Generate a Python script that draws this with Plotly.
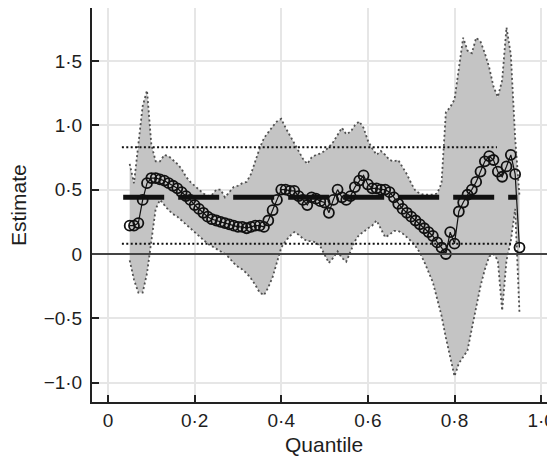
import plotly.graph_objects as go

# ---- data ----
quantiles = [round(0.05 + 0.01 * i, 2) for i in range(91)]

estimate = [
    0.22, 0.22, 0.24, 0.42, 0.55, 0.59, 0.59, 0.58, 0.57, 0.55,   # 0.05-0.14
    0.53, 0.51, 0.48, 0.45, 0.42, 0.38, 0.35, 0.32, 0.29, 0.27,   # 0.15-0.24
    0.26, 0.25, 0.24, 0.23, 0.22, 0.21, 0.21, 0.20, 0.21, 0.22,   # 0.25-0.34
    0.22, 0.21, 0.26, 0.34, 0.42, 0.50, 0.50, 0.49, 0.49, 0.45,   # 0.35-0.44
    0.42, 0.38, 0.44, 0.43, 0.41, 0.40, 0.32, 0.42, 0.50, 0.44,   # 0.45-0.54
    0.42, 0.45, 0.52, 0.57, 0.61, 0.54, 0.51, 0.51, 0.50, 0.50,   # 0.55-0.64
    0.48, 0.44, 0.39, 0.35, 0.32, 0.29, 0.26, 0.23, 0.20, 0.17,   # 0.65-0.74
    0.14, 0.09, 0.05, 0.00, 0.17, 0.08, 0.33, 0.40, 0.46, 0.50,   # 0.75-0.84
    0.56, 0.64, 0.72, 0.76, 0.73, 0.64, 0.60, 0.68, 0.77, 0.62,   # 0.85-0.94
    0.05,                                                           # 0.95
]

upper = [
    0.70, 0.55, 0.85, 1.15, 1.27, 0.85, 0.72, 0.72, 0.77, 0.76,
    0.73, 0.70, 0.66, 0.60, 0.56, 0.53, 0.50, 0.47, 0.45, 0.46,
    0.50, 0.50, 0.44, 0.48, 0.52, 0.53, 0.55, 0.56, 0.62, 0.72,
    0.82, 0.90, 0.95, 0.99, 1.03, 1.05, 0.98, 0.92, 0.87, 0.80,
    0.74, 0.70, 0.75, 0.77, 0.78, 0.80, 0.83, 0.87, 0.92, 0.98,
    0.93, 0.95, 1.00, 1.03, 0.98, 0.88, 0.82, 0.77, 0.80, 0.77,
    0.73, 0.72, 0.73, 0.68, 0.62, 0.55, 0.49, 0.47, 0.46, 0.46,
    0.46, 0.47, 0.55, 1.10, 1.14, 1.20, 1.45, 1.68, 1.58, 1.56,
    1.68, 1.65, 1.56, 1.45, 1.30, 1.22, 1.35, 1.76, 1.55, 0.90,
    0.45,
]

lower = [
    -0.05, -0.20, -0.30, -0.30, -0.15, 0.10, 0.35, 0.42, 0.38, 0.34,
    0.31, 0.29, 0.26, 0.23, 0.20, 0.17, 0.14, 0.11, 0.08, 0.06,
    0.04, 0.02, 0.00, -0.03, -0.07, -0.10, -0.12, -0.15, -0.19, -0.24,
    -0.30, -0.32, -0.26, -0.18, -0.06, 0.05, 0.10, 0.14, 0.17, 0.15,
    0.12, 0.10, 0.10, 0.09, 0.06, 0.00, -0.07, -0.03, 0.02, -0.03,
    -0.06, 0.02, 0.10, 0.15, 0.17, 0.20, 0.22, 0.26, 0.20, 0.13,
    0.15, 0.18, 0.18, 0.16, 0.13, 0.10, 0.06, 0.01, -0.06, -0.14,
    -0.22, -0.35, -0.48, -0.65, -0.80, -0.95, -0.85, -0.80, -0.75, -0.58,
    -0.40, -0.25, -0.12, -0.02, 0.00, -0.05, -0.44, -0.05, 0.10, 0.35,
    -0.46,
]

ols_estimate = 0.44
ols_est_span = [0.035, 0.945]
ols_ci_upper = 0.83
ols_ci_upper_span = [0.032, 0.898]
ols_ci_lower = 0.08
ols_ci_lower_span = [0.032, 0.936]

x_tickvals = [0, 0.2, 0.4, 0.6, 0.8, 1.0]
x_ticktext = ["0", "0·2", "0·4", "0·6", "0·8", "1·0"]
y_tickvals = [-1.0, -0.5, 0, 0.5, 1.0, 1.5]
y_ticktext = ["−1·0", "−0·5", "0", "0·5", "1·0", "1·5"]

# ---- figure ----
FONT = "Liberation Sans, Arial, sans-serif"
TXT = "#1e1e1e"
band_line = dict(color="#505050", width=1.8, dash="2px,2.6px")

fig = go.Figure()
fig.add_trace(go.Scatter(x=quantiles, y=lower, mode="lines", line=band_line,
                         hoverinfo="skip", showlegend=False))
fig.add_trace(go.Scatter(x=quantiles, y=upper, mode="lines", line=band_line,
                         fill="tonexty", fillcolor="#c4c4c4",
                         hoverinfo="skip", showlegend=False))
fig.add_trace(go.Scatter(x=ols_est_span, y=[ols_estimate] * 2, mode="lines",
                         line=dict(color="#111111", width=5, dash="41px,14px"),
                         showlegend=False))
fig.add_trace(go.Scatter(x=ols_ci_upper_span, y=[ols_ci_upper] * 2, mode="lines",
                         line=dict(color="#111111", width=2, dash="2px,2.4px"),
                         showlegend=False))
fig.add_trace(go.Scatter(x=ols_ci_lower_span, y=[ols_ci_lower] * 2, mode="lines",
                         line=dict(color="#111111", width=2, dash="2px,2.4px"),
                         showlegend=False))
fig.add_trace(go.Scatter(x=quantiles, y=estimate, mode="lines+markers",
                         line=dict(color="#111111", width=1.2),
                         marker=dict(symbol="circle-open", size=10, color="#111111",
                                     line=dict(width=1.8, color="#111111")),
                         showlegend=False))

fig.add_shape(type="line", xref="paper", yref="y", x0=0, x1=1, y0=0, y1=0,
              line=dict(color="#444444", width=2), layer="above")

fig.add_annotation(text="Quantile", xref="paper", yref="paper", x=0.5, y=0,
                   xanchor="center", yanchor="middle", yshift=-42,
                   showarrow=False, font=dict(family=FONT, size=21, color=TXT))
fig.add_annotation(text="Estimate", xref="paper", yref="paper", x=0, y=0.5,
                   xanchor="center", yanchor="middle", xshift=-74, textangle=-90,
                   showarrow=False, font=dict(family=FONT, size=21, color=TXT))

fig.update_layout(
    width=547, height=453,
    margin=dict(l=84, r=0, t=0, b=59),
    template="none",
    paper_bgcolor="white", plot_bgcolor="white",
    font=dict(family=FONT, size=19, color=TXT),
    showlegend=False,
    xaxis=dict(
        range=[-0.037, 1.032], tickvals=x_tickvals, ticktext=x_ticktext,
        showgrid=True, gridcolor="#e6e6e6", gridwidth=1.5, zeroline=False,
        showline=True, linecolor="#222222", linewidth=2, mirror=True,
        ticks="inside", ticklen=7, tickwidth=2, tickcolor="#222222",
        automargin=False, tickfont=dict(size=19),
    ),
    yaxis=dict(
        range=[-1.15, 1.911], tickvals=y_tickvals, ticktext=y_ticktext,
        showgrid=True, gridcolor="#e6e6e6", gridwidth=1.5, zeroline=False,
        showline=True, linecolor="#222222", linewidth=2, mirror=False,
        ticks="inside", ticklen=7, tickwidth=2, tickcolor="#222222",
        automargin=False, ticklabelstandoff=4, tickfont=dict(size=19),
    ),
)

fig.write_html("out.html")
